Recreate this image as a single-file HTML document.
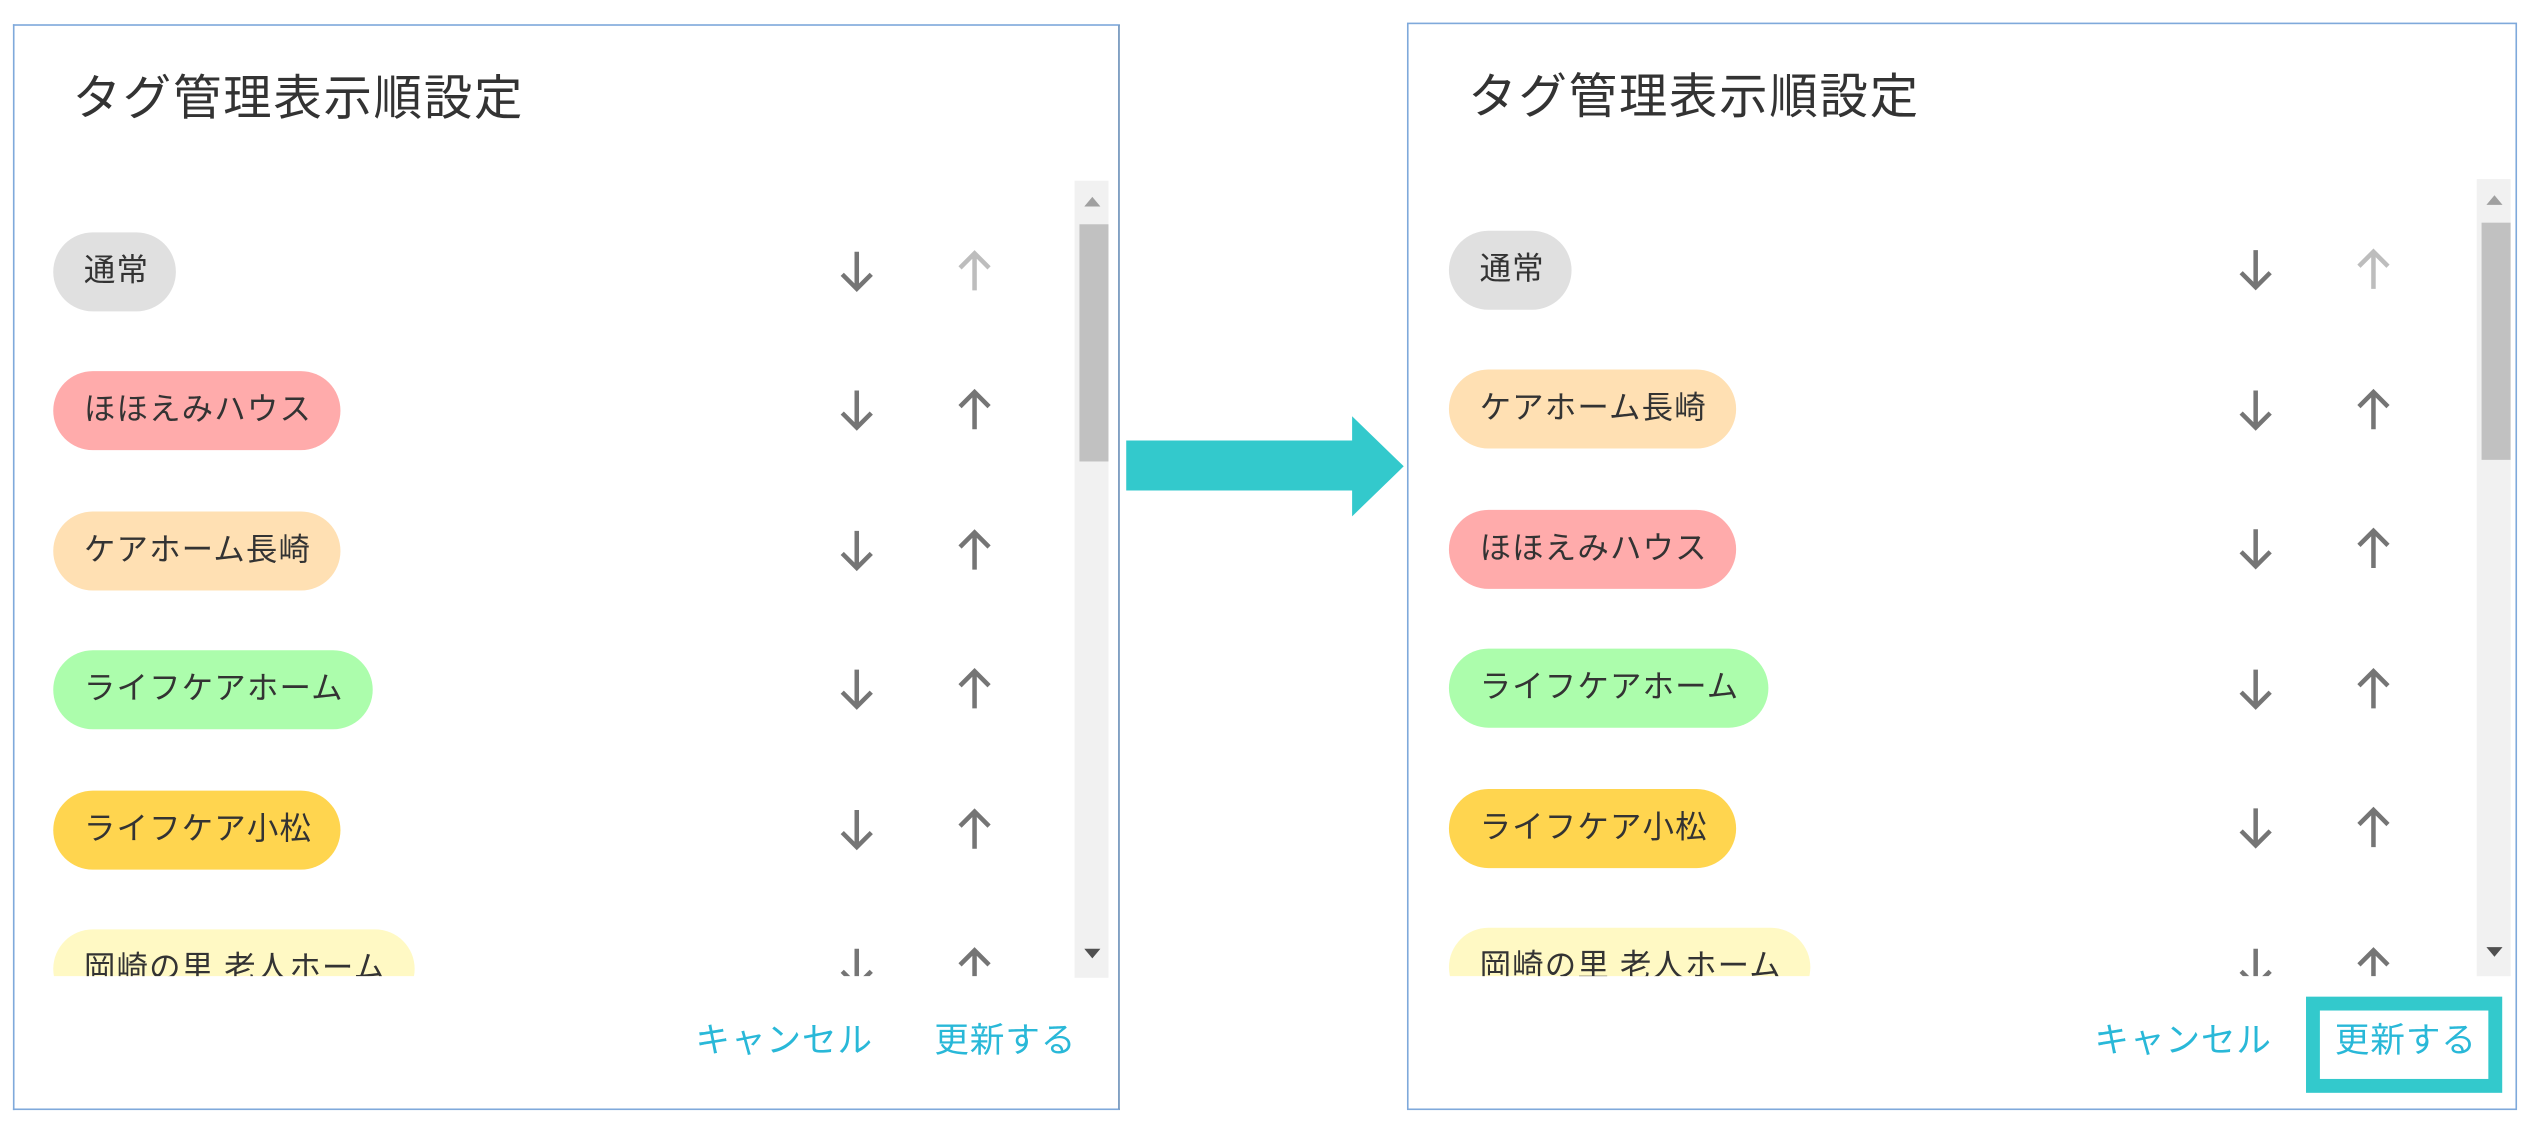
<!DOCTYPE html>
<html><head><meta charset="utf-8"><style>
html,body{margin:0;padding:0;background:#fff;overflow:hidden}
#w{position:absolute;left:0;top:0;width:1568px;height:701px;transform:scale(1.6135);transform-origin:0 0;font-family:"Liberation Sans","Noto Sans CJK JP",sans-serif}
.p{position:absolute;border:1.3px solid #7fa9db;background:#fff;box-sizing:border-box}
.t{position:absolute;font-size:30px;color:#333;white-space:nowrap;line-height:1;letter-spacing:1.1px}
.clip{position:absolute;overflow:hidden}
.chip{position:absolute;height:49px;border-radius:25px;font-size:19.5px;color:#333;line-height:49px;padding:0 19px;box-sizing:border-box;white-space:nowrap;letter-spacing:0.7px}
.sb{position:absolute;background:#f1f1f1}
.th{position:absolute;background:#c1c1c1}
.btn{position:absolute;font-size:21.5px;color:#29b8d8;white-space:nowrap;line-height:1;letter-spacing:0.5px}
</style></head><body><div id="w">
<!-- LEFT -->
<div class="p" style="left:8px;top:15px;width:686px;height:673px;border-right:1.5px solid #6a8fb8"></div>
<div class="t" style="left:45px;top:47px">タグ管理表示順設定</div>
<div class="sb" style="left:666px;top:112px;width:21px;height:494px"></div>
<div class="th" style="left:669px;top:139px;width:18px;height:147px"></div>
<svg style="position:absolute;left:672px;top:121px" width="10" height="8"><polygon points="0,7 5,1 10,7" fill="#a0a0a0"/></svg>
<svg style="position:absolute;left:672px;top:587px" width="10" height="8"><polygon points="0,1 5,7 10,1" fill="#505050"/></svg>
<div class="clip" style="left:20px;top:112px;width:640px;height:493px">
<div class="chip" style="left:13px;top:32px;width:76px;background:#e0e0e0">通常</div>
<div class="chip" style="left:13px;top:118px;width:178px;background:#ffabab">ほほえみハウス</div>
<div class="chip" style="left:13px;top:205px;width:178px;background:#ffe0b3">ケアホーム長崎</div>
<div class="chip" style="left:13px;top:291px;width:198px;background:#acfdac">ライフケアホーム</div>
<div class="chip" style="left:13px;top:378px;width:178px;background:#ffd54f">ライフケア小松</div>
<div class="chip" style="left:13px;top:464px;width:224px;background:#fff9c4">岡崎の里 老人ホーム</div>
</div>
<!-- RIGHT -->
<div class="p" style="left:872px;top:14px;width:688px;height:674px"></div>
<div class="t" style="left:910px;top:46px">タグ管理表示順設定</div>
<div class="sb" style="left:1535px;top:111px;width:21px;height:494px"></div>
<div class="th" style="left:1538px;top:138px;width:18px;height:147px"></div>
<svg style="position:absolute;left:1541px;top:120px" width="10" height="8"><polygon points="0,7 5,1 10,7" fill="#a0a0a0"/></svg>
<svg style="position:absolute;left:1541px;top:586px" width="10" height="8"><polygon points="0,1 5,7 10,1" fill="#505050"/></svg>
<div class="clip" style="left:885px;top:111px;width:640px;height:494px">
<div class="chip" style="left:13px;top:32px;width:76px;background:#e0e0e0">通常</div>
<div class="chip" style="left:13px;top:118px;width:178px;background:#ffe0b3">ケアホーム長崎</div>
<div class="chip" style="left:13px;top:205px;width:178px;background:#ffabab">ほほえみハウス</div>
<div class="chip" style="left:13px;top:291px;width:198px;background:#acfdac">ライフケアホーム</div>
<div class="chip" style="left:13px;top:378px;width:178px;background:#ffd54f">ライフケア小松</div>
<div class="chip" style="left:13px;top:464px;width:224px;background:#fff9c4">岡崎の里 老人ホーム</div>
</div>
<!-- arrows -->
<svg style="position:absolute;left:0;top:0" width="1568" height="701">
<defs>
<g id="dn"><path d="M0,-12 V11 M-9,2 L0,11 L9,2" fill="none" stroke-width="2.8"/></g>
<g id="up"><path d="M0,12 V-11 M-9,-2 L0,-11 L9,-2" fill="none" stroke-width="2.8"/></g>
<clipPath id="cl"><rect x="0" y="112" width="1568" height="493"/></clipPath>
</defs>
<g clip-path="url(#cl)" stroke="#757575">
<use href="#dn" x="531" y="168"/><use href="#up" x="604" y="168" stroke="#bdbdbd"/>
<use href="#dn" x="531" y="254"/><use href="#up" x="604" y="254"/>
<use href="#dn" x="531" y="341"/><use href="#up" x="604" y="341"/>
<use href="#dn" x="531" y="427"/><use href="#up" x="604" y="427"/>
<use href="#dn" x="531" y="514"/><use href="#up" x="604" y="514"/>
<use href="#dn" x="531" y="600"/><use href="#up" x="604" y="600"/>
<use href="#dn" x="1398" y="167"/><use href="#up" x="1471" y="167" stroke="#bdbdbd"/>
<use href="#dn" x="1398" y="254"/><use href="#up" x="1471" y="254"/>
<use href="#dn" x="1398" y="340"/><use href="#up" x="1471" y="340"/>
<use href="#dn" x="1398" y="427"/><use href="#up" x="1471" y="427"/>
<use href="#dn" x="1398" y="513"/><use href="#up" x="1471" y="513"/>
<use href="#dn" x="1398" y="600"/><use href="#up" x="1471" y="600"/>
</g>
<polygon points="698,273 838,273 838,258 870,289 838,320 838,304 698,304" fill="#33c9cc"/>
<rect x="1433.5" y="622" width="113" height="51" fill="none" stroke="#33c9cc" stroke-width="8.6"/>
</svg>
<div class="btn" style="left:431px;top:635px">キャンセル</div>
<div class="btn" style="left:579px;top:635px">更新する</div>
<div class="btn" style="left:1298px;top:635px">キャンセル</div>
<div class="btn" style="left:1447px;top:635px">更新する</div>
</div></body></html>
